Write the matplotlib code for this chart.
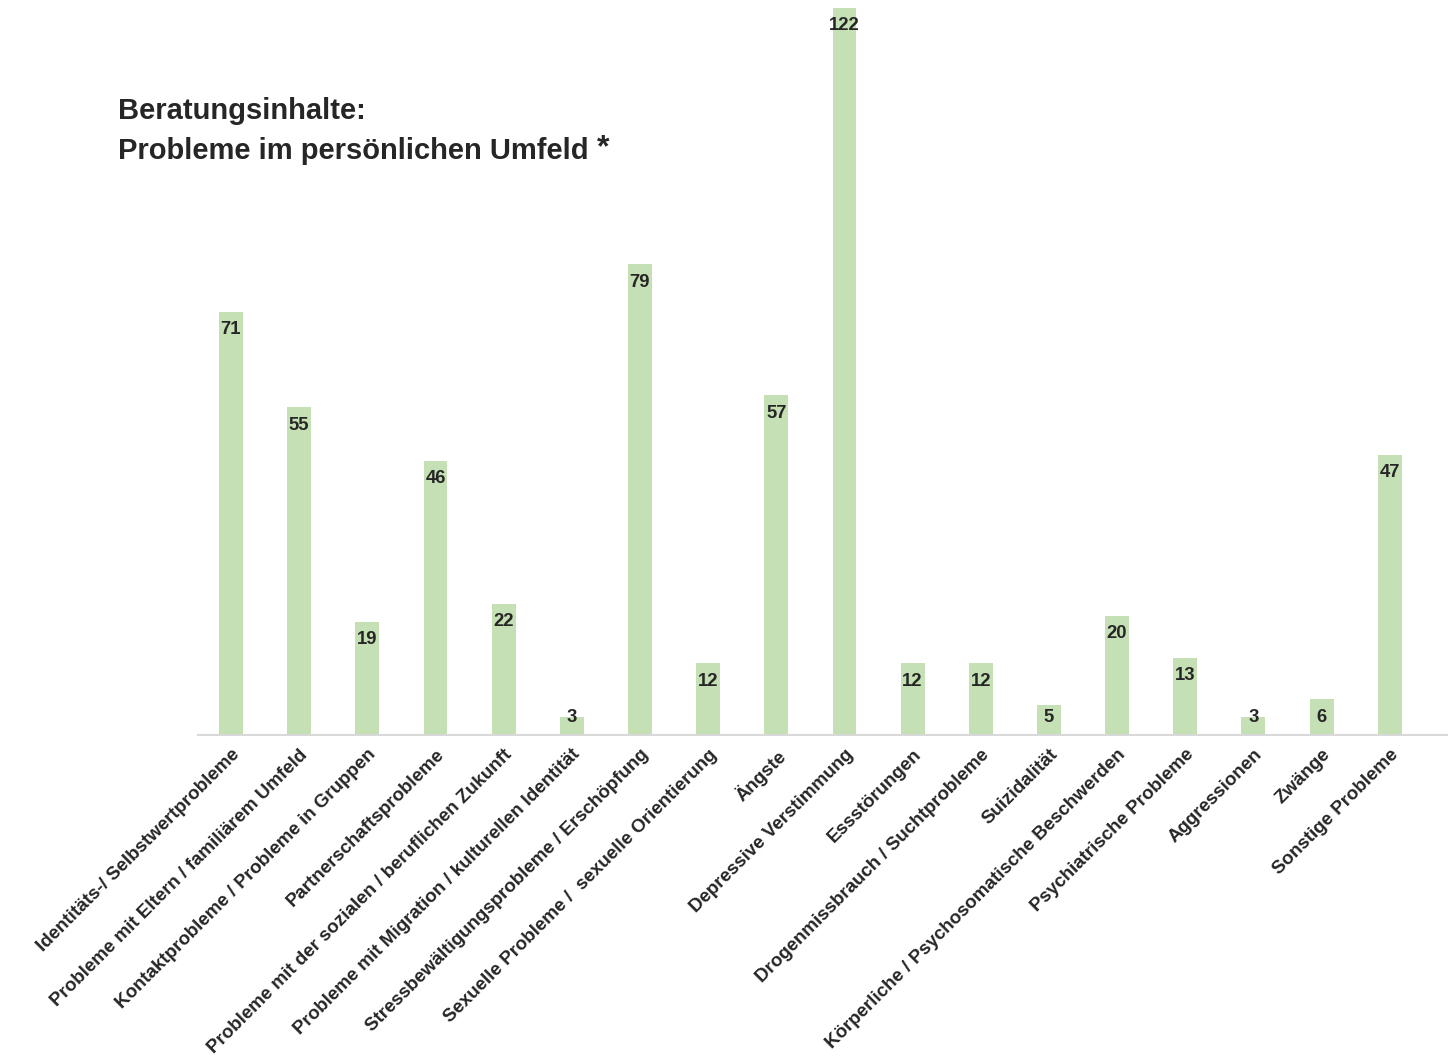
import matplotlib.pyplot as plt

plt.rcParams['font.family'] = ['Liberation Sans', 'DejaVu Sans']

categories = [
    'Identitäts-/ Selbstwertprobleme',
    'Probleme mit Eltern / familiärem Umfeld',
    'Kontaktprobleme / Probleme in Gruppen',
    'Partnerschaftsprobleme',
    'Probleme mit der sozialen / beruflichen Zukunft',
    'Probleme mit Migration / kulturellen Identität',
    'Stressbewältigungsprobleme / Erschöpfung',
    'Sexuelle Probleme /  sexuelle Orientierung',
    'Ängste',
    'Depressive Verstimmung',
    'Essstörungen',
    'Drogenmissbrauch / Suchtprobleme',
    'Suizidalität',
    'Körperliche / Psychosomatische Beschwerden',
    'Psychiatrische Probleme',
    'Aggressionen',
    'Zwänge',
    'Sonstige Probleme',
]
values = [71, 55, 19, 46, 22, 3, 79, 12, 57, 122, 12, 12, 5, 20, 13, 3, 6, 47]

text_color = '#262626'

fig = plt.figure(figsize=(14.5, 10.59), dpi=100)
ax = fig.add_axes([198 / 1450, (1059 - 735) / 1059, (1447 - 198) / 1450, 735 / 1059])

x = range(len(categories))
bars = ax.bar(x, values, width=0.35, color='#c5e0b4', zorder=2)

# labels sit inside the bar top, but never lower than for a 6-bar
for b, v in zip(bars, values):
    ax.annotate(str(v), (b.get_x() + b.get_width() / 2, max(v, 6)),
                xytext=(0, -18), textcoords='offset pixels',
                ha='center', va='center', fontsize=13.3, fontweight='bold',
                color=text_color)

ax.set_xlim(-0.484, 17.84)
ax.set_ylim(0, 123.3)
ax.set_xticks(list(x))
ax.set_xticklabels(categories, rotation=45, ha='right', rotation_mode='anchor',
                   fontsize=13.5, fontweight='bold', color=text_color)
ax.tick_params(axis='x', length=0, pad=8)
ax.set_yticks([])
for side in ['left', 'right', 'top']:
    ax.spines[side].set_visible(False)
ax.spines['bottom'].set_color('#d9d9d9')
ax.spines['bottom'].set_linewidth(1.5)
ax.patch.set_visible(False)

fig.text(118 / 1450, 1 - 111 / 1059, 'Beratungsinhalte:', fontsize=21,
         fontweight='bold', color=text_color, va='center', ha='left')
t2 = fig.text(118 / 1450, 1 - 151 / 1059, 'Probleme im persönlichen Umfeld', fontsize=21,
              fontweight='bold', color=text_color, va='center', ha='left')
ax.annotate('*', xy=(1, 0.5), xycoords=t2, xytext=(8, 3), textcoords='offset pixels',
            fontsize=23, fontweight='bold', color=text_color,
            ha='left', va='center', annotation_clip=False)

fig.savefig('out.png', dpi=100)
